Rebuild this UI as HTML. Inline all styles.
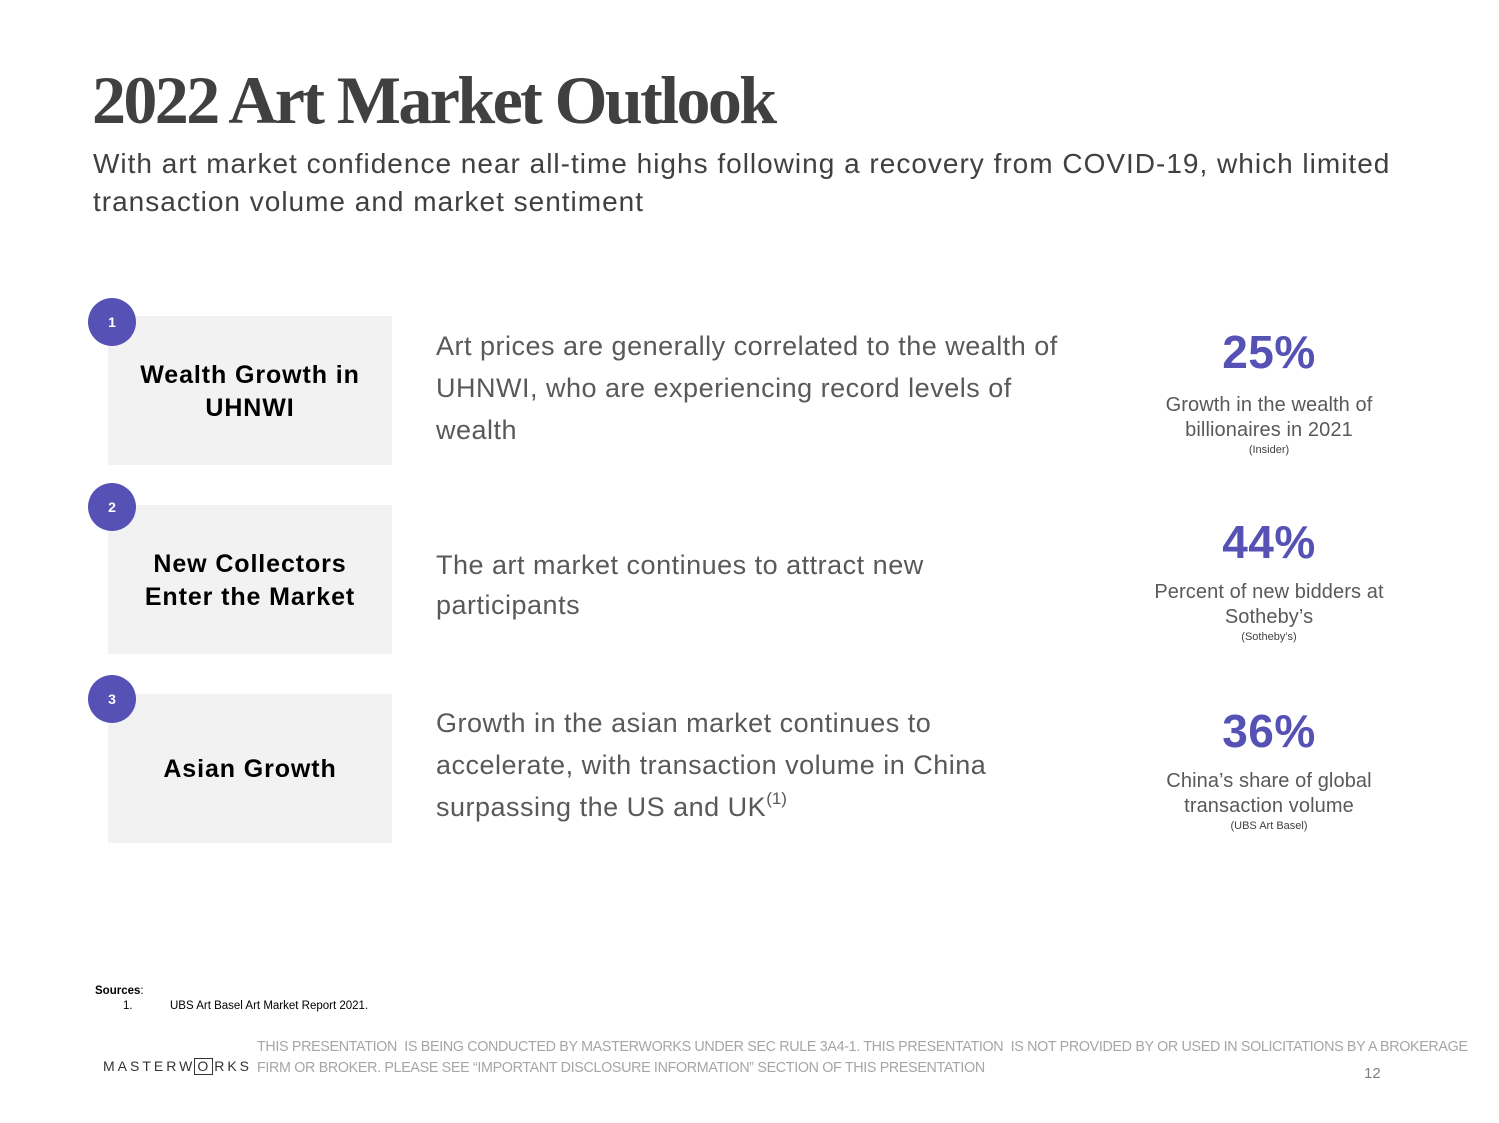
<!DOCTYPE html>
<html><head><meta charset="utf-8">
<style>
html,body{margin:0;padding:0;background:#fff;}
body{width:1499px;height:1123px;position:relative;overflow:hidden;font-family:"Liberation Sans",Arial,sans-serif;}
.a{position:absolute;white-space:nowrap;}
.title{left:92px;top:66px;font-family:"Liberation Serif",serif;font-weight:bold;font-size:68px;line-height:68px;color:#404040;letter-spacing:-2.6px;transform-origin:0 0;}
.sub{left:93px;font-size:28px;line-height:38px;color:#404040;letter-spacing:1px;}
.box{position:absolute;left:108px;width:284px;height:149px;background:#f2f2f2;display:flex;align-items:center;justify-content:center;text-align:center;font-weight:bold;font-size:25px;line-height:33px;color:#000;letter-spacing:0.9px;}
.box div{position:relative;top:1px;}
.circ{position:absolute;width:48px;height:48px;border-radius:50%;background:#5551b5;color:#fff;font-weight:bold;font-size:14px;line-height:48px;text-align:center;}
.mid{left:436px;font-size:27px;color:#595959;letter-spacing:0.5px;}
.stat{position:absolute;left:1119px;width:300px;text-align:center;color:#595959;}
.big{font-weight:bold;font-size:46px;line-height:50px;color:#5551b5;letter-spacing:0.5px;}
.cap{font-size:20px;line-height:25px;letter-spacing:0.1px;}
.src{font-size:11px;line-height:14px;color:#404040;}
.disc{left:257px;font-size:14.3px;line-height:21px;color:#a6a6a6;letter-spacing:-0.33px;}
</style></head><body>

<div class="a title">2022 Art Market Outlook</div>
<div class="a sub" style="top:145px;">With art market confidence near all-time highs following a recovery from COVID-19, which limited</div>
<div class="a sub" style="top:183px;">transaction volume and market sentiment</div>

<div class="box" style="top:316px;"><div>Wealth Growth in<br>UHNWI</div></div>
<div class="box" style="top:505px;"><div>New Collectors<br>Enter the Market</div></div>
<div class="box" style="top:694px;"><div>Asian Growth</div></div>

<div class="circ" style="left:88px;top:298px;">1</div>
<div class="circ" style="left:88px;top:483px;">2</div>
<div class="circ" style="left:88px;top:675px;">3</div>

<div class="a mid" style="top:325px;line-height:42px;">Art prices are generally correlated to the wealth of<br>UHNWI, who are experiencing record levels of<br>wealth</div>
<div class="a mid" style="top:545px;line-height:40px;">The art market continues to attract new<br>participants</div>
<div class="a mid" style="top:702px;line-height:42px;">Growth in the asian market continues to<br>accelerate, with transaction volume in China<br>surpassing the US and UK<sup style="font-size:17px;line-height:0;position:relative;top:-2px;vertical-align:baseline;letter-spacing:0;"><span style="position:relative;top:-10px;">(1)</span></sup></div>

<div class="stat" style="top:327px;">
  <div class="big">25%</div>
  <div class="cap" style="margin-top:16px;">Growth in the wealth of<br>billionaires in 2021</div>
  <div class="src" style="margin-top:0px;">(Insider)</div>
</div>
<div class="stat" style="top:517px;">
  <div class="big">44%</div>
  <div class="cap" style="margin-top:13px;">Percent of new bidders at<br>Sotheby’s</div>
  <div class="src" style="margin-top:0px;">(Sotheby’s)</div>
</div>
<div class="stat" style="top:706px;">
  <div class="big">36%</div>
  <div class="cap" style="margin-top:13px;">China’s share of global<br>transaction volume</div>
  <div class="src" style="margin-top:0px;">(UBS Art Basel)</div>
</div>

<div class="a" style="left:95px;top:985px;font-size:11.5px;color:#000;"><b>Sources</b>:</div>
<div class="a" style="left:123px;top:1000px;font-size:11.5px;color:#000;">1.</div>
<div class="a" style="left:170px;top:1000px;font-size:11.5px;color:#000;letter-spacing:0px;">UBS Art Basel Art Market Report 2021.</div>

<div class="a" style="left:103px;top:1057px;font-size:14px;line-height:18px;color:#333;letter-spacing:3px;">MASTERW<span style="display:inline-block;border:1.5px solid #333;padding:0 1px 0 2px;line-height:15px;margin:0 1px 0 -1px;">O</span>RKS</div>

<div class="a disc" style="top:1037px;">THIS PRESENTATION&nbsp; IS BEING CONDUCTED BY MASTERWORKS UNDER SEC RULE 3A4-1. THIS PRESENTATION&nbsp; IS NOT PROVIDED BY OR USED IN SOLICITATIONS BY A BROKERAGE</div>
<div class="a disc" style="top:1058px;">FIRM OR BROKER. PLEASE SEE “IMPORTANT DISCLOSURE INFORMATION” SECTION OF THIS PRESENTATION</div>

<div class="a" style="left:1364px;top:1065px;font-size:15px;color:#7f7f7f;">12</div>

</body></html>
